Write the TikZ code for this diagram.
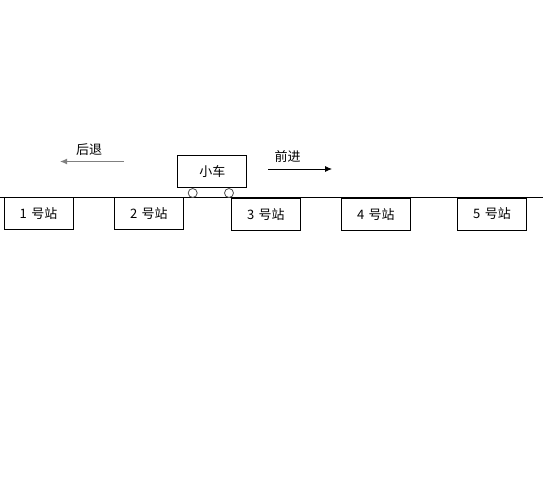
\documentclass[tikz,border=0pt]{standalone}
\usepackage{fontspec}
\setmainfont{Noto Sans CJK SC}
\usetikzlibrary{arrows.meta,positioning}

\begin{document}
\begin{tikzpicture}[x=1pt,y=-1pt,line width=0.8pt,
        stationbox/.style={draw, rectangle, minimum width=69pt, minimum height=32.5pt, inner sep=0pt, font=\fontsize{13}{15}\selectfont},
        wheel/.style={draw=black!70, circle, fill=white, minimum size=9pt, inner sep=0pt}]
        \tikzstyle{label} = [inner sep=0pt, font=\fontsize{13}{15}\selectfont]
        \useasboundingbox (0,0) rectangle (544,480);
        % track
        \coordinate (trackL) at (0,197.3);
        \coordinate (trackR) at (543,197.3);
        \draw (trackL) -- (trackR);
        % stations
        \node[stationbox] (s1) at (38.5,213.6) {1\,\,号站};
        \node[stationbox] (s2) at (148.8,213.6) {2\,\,号站};
        \node[stationbox, minimum height=31.5pt] (s3) at (265.8,214.4) {3\,\,号站};
        \node[stationbox, minimum height=31.5pt] (s4) at (375.8,214.3) {4\,\,号站};
        \node[stationbox, minimum height=32pt] (s5) at (492,214) {5\,\,号站};
        % cart
        \node[stationbox, minimum height=32.5pt] (cart) at (212.3,171.5) {小车};
        \node[wheel] (w1) at (192.7,193) {};
        \node[wheel] (w2) at (229,193) {};
        % directions
        \coordinate (backS) at (124,161.5);
        \coordinate (backE) at (60,161.5);
        \draw [-{Latex[length=7pt,width=6pt]}, draw=black!50, line width=1.2pt] (backS) -- (backE);
        \node[label] (back) at (89,150) {后退};
        \coordinate (fwdS) at (268,169);
        \coordinate (fwdE) at (332,169);
        \draw [-{Latex[length=7pt,width=6pt]}] (fwdS) -- (fwdE);
        \node[label] (fwd) at (287.5,156.5) {前进};
\end{tikzpicture}
\end{document}
